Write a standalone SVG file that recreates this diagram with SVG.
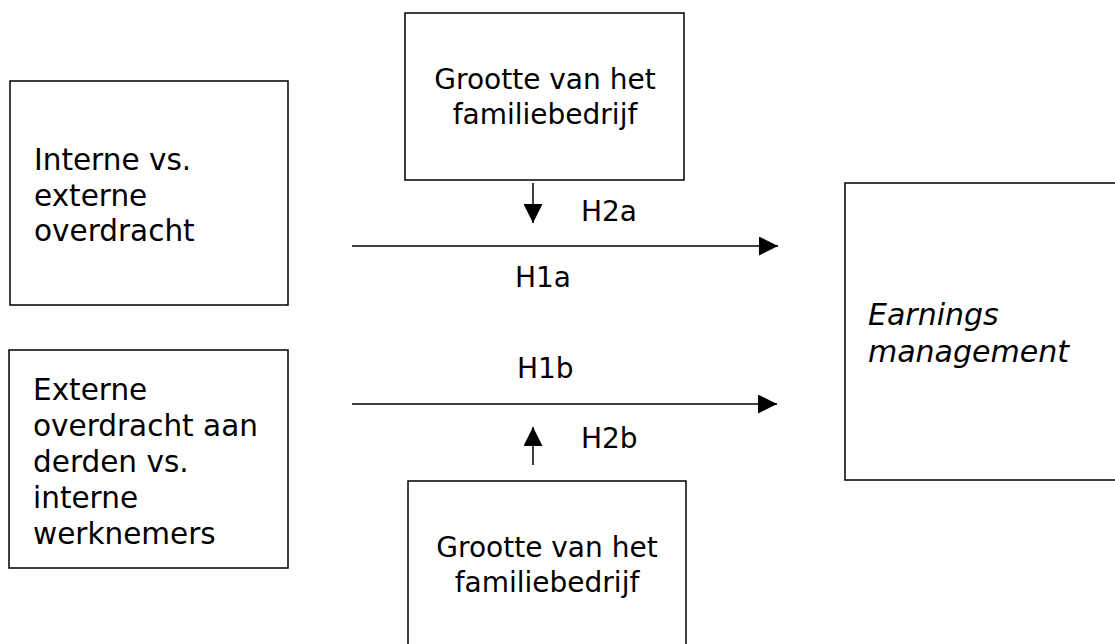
<svg xmlns="http://www.w3.org/2000/svg" width="1115" height="644" viewBox="0 0 1115 644">
<style>
.box{fill:#fff;stroke:#000;stroke-width:1.5}
.t{font-family:"DejaVu Sans","Verdana",sans-serif;font-size:28px;fill:#000}
.l{font-size:29.5px}
.i{font-style:italic;font-size:30px}
.c{stroke:#000;stroke-width:1.5;fill:none}
</style>
<defs>
<marker id="ah" markerUnits="userSpaceOnUse" markerWidth="19" markerHeight="19" refX="19" refY="9.5" orient="auto">
<path d="M0,0 L19,9.5 L0,19 z" fill="#000"/>
</marker>
</defs>
<rect width="1115" height="644" fill="#fff"/>
<g id="node-interne">
<rect class="box" x="10" y="81" width="278" height="224"/>
<text class="t l" x="34" y="170">Interne vs.</text>
<text class="t l" x="34" y="206">externe</text>
<text class="t l" x="34" y="241">overdracht</text>
</g>
<g id="node-externe">
<rect class="box" x="9" y="350" width="279" height="218"/>
<text class="t l" x="33" y="400">Externe</text>
<text class="t l" x="33" y="436">overdracht aan</text>
<text class="t l" x="33" y="472">derden vs.</text>
<text class="t l" x="33" y="508">interne</text>
<text class="t l" x="33" y="544">werknemers</text>
</g>
<g id="node-grootte-top">
<rect class="box" x="405" y="13" width="279" height="167"/>
<text class="t" x="545" y="89" text-anchor="middle">Grootte van het</text>
<text class="t" x="545" y="124" text-anchor="middle">familiebedrijf</text>
</g>
<g id="node-grootte-bottom">
<rect class="box" x="408" y="481" width="278" height="180"/>
<text class="t" x="547" y="557" text-anchor="middle">Grootte van het</text>
<text class="t" x="547" y="592" text-anchor="middle">familiebedrijf</text>
</g>
<g id="node-earnings">
<rect class="box" x="845" y="183" width="290" height="297"/>
<text class="t i" x="868" y="325">Earnings</text>
<text class="t i" x="868" y="362">management</text>
</g>
<g id="connectors">
<line class="c" x1="352" y1="246" x2="778" y2="246" marker-end="url(#ah)"/>
<line class="c" x1="352" y1="404" x2="777" y2="404" marker-end="url(#ah)"/>
<line class="c" x1="533" y1="183" x2="533" y2="223" marker-end="url(#ah)"/>
<line class="c" x1="533" y1="465" x2="533" y2="427" marker-end="url(#ah)"/>
<text class="t" x="581" y="221">H2a</text>
<text class="t" x="515" y="287">H1a</text>
<text class="t" x="517" y="378">H1b</text>
<text class="t" x="581" y="448">H2b</text>
</g>
</svg>
